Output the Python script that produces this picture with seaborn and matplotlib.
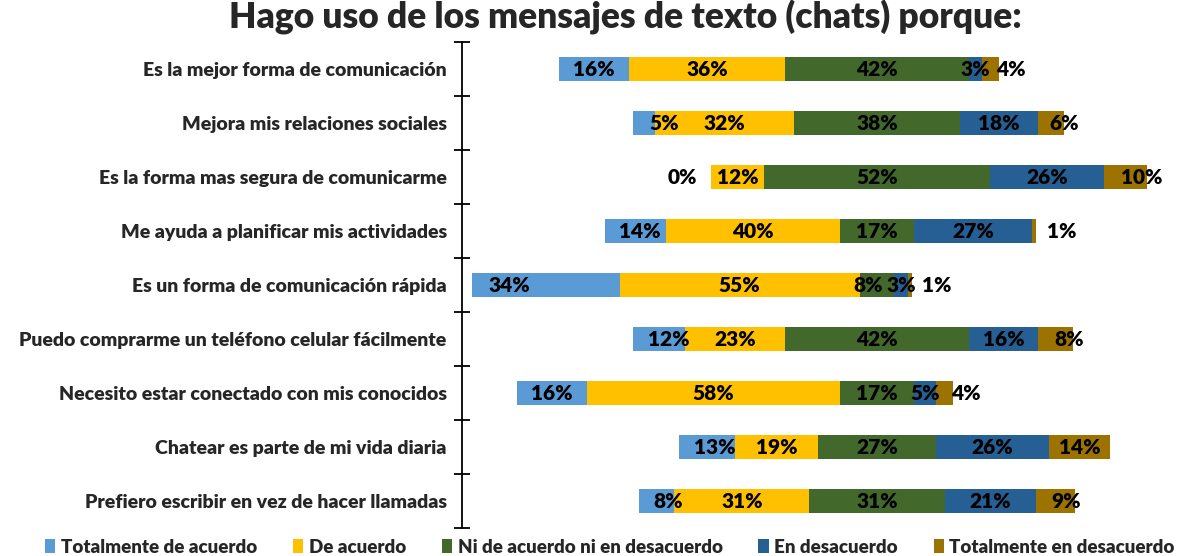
import numpy as np
import pandas as pd
import matplotlib
matplotlib.use("Agg")
import matplotlib.pyplot as plt
from matplotlib.patches import Patch
from matplotlib.ticker import FixedLocator
import seaborn as sns

# data (percent)
categories = [
    "Es la mejor forma de comunicación",
    "Mejora mis relaciones sociales",
    "Es la forma mas segura de comunicarme",
    "Me ayuda a planificar mis actividades",
    "Es un forma de comunicación rápida",
    "Puedo comprarme un teléfono celular fácilmente",
    "Necesito estar conectado con mis conocidos",
    "Chatear es parte de mi vida diaria",
    "Prefiero escribir en vez de hacer llamadas",
]
series_names = ["Totalmente de acuerdo", "De acuerdo", "Ni de acuerdo ni en desacuerdo",
                "En desacuerdo", "Totalmente en desacuerdo"]
tot_acuerdo = [16, 5, 0, 14, 34, 12, 16, 13, 8]
de_acuerdo = [36, 32, 12, 40, 55, 23, 58, 19, 31]
neutral = [42, 38, 52, 17, 8, 42, 17, 27, 31]
en_desacuerdo = [3, 18, 26, 27, 3, 16, 5, 26, 21]
tot_desacuerdo = [4, 6, 10, 1, 1, 8, 4, 14, 9]

colors = ["#5B9BD5", "#FFC000", "#43682B", "#265F93", "#9C7300"]

# label nudges (in % units) where the original labels were moved off-centre
nudges = {(0, 4): 4.8, (1, 0): 4.6, (1, 4): 3.0, (2, 0): -6.7, (2, 4): 3.7,
          (3, 0): 1.1, (3, 4): 6.4, (4, 0): -8.3, (4, 2): -2.1, (4, 4): 6.2,
          (5, 0): 2.3, (5, 4): 3.0, (6, 4): 5.0, (7, 0): 1.8, (8, 0): 2.5, (8, 4): 2.3}

sns.set_theme(style="white")
plt.rcParams["font.family"] = ["Lato", "DejaVu Sans"]
W = "heavy"

ta = np.array(tot_acuerdo, float)
da = np.array(de_acuerdo, float)
ne = np.array(neutral, float)
ed = np.array(en_desacuerdo, float)
td = np.array(tot_desacuerdo, float)

fig = plt.figure(figsize=(11.85, 5.56), dpi=100)
ax = fig.add_axes([462 / 1185, 1 - 528 / 556, 718 / 1185, (528 - 42) / 556])

# diverging bars centred on the middle of the neutral segment, layered
layers = [
    (-(ta + da + ne / 2), colors[0]),
    (-(da + ne / 2), colors[1]),
    (-(ne / 2), colors[2]),
    (ne / 2 + ed + td, colors[4]),
    (ne / 2 + ed, colors[3]),
    (ne / 2, colors[2]),
]
for vals, col in layers:
    df = pd.DataFrame({"cat": categories, "val": vals})
    sns.barplot(data=df, x="val", y="cat", order=categories, color=col, orient="h",
                width=0.45, errorbar=None, saturation=1, linewidth=0, ax=ax)

# segment labels
stack = np.vstack([ta, da, ne, ed, td])
start = -(ta + da + ne / 2)
for i in range(len(categories)):
    left = start[i]
    for j in range(5):
        v = stack[j, i]
        cx = left + v / 2 + nudges.get((i, j), 0)
        ax.text(cx, i, f"{int(v)}%", ha="center", va="center", fontsize=15,
                fontweight=W, color="black")
        left += v

ax.set_xlim(-95.2, 69.5)
ax.set_ylim(len(categories) - 0.5, -0.5)
ax.set_xlabel("")
ax.set_ylabel("")
ax.set_xticks([])
for s in ["top", "right", "bottom"]:
    ax.spines[s].set_visible(False)
ax.spines["left"].set_color("black")
ax.spines["left"].set_linewidth(1.3)
ax.tick_params(axis="y", which="major", length=0, pad=11, labelsize=14)
ax.yaxis.set_minor_locator(FixedLocator(np.arange(-0.5, len(categories), 1.0)))
ax.tick_params(axis="y", which="minor", left=True, direction="inout", length=11,
               width=1.3, color="black")
for lab in ax.get_yticklabels():
    lab.set_fontweight(W)

fig.suptitle("Hago uso de los mensajes de texto (chats) porque:", x=625 / 1185, y=1.0,
             fontsize=25.5, fontweight=W, va="top")

handles = [Patch(facecolor=c, edgecolor="none") for c in colors]
fig.legend(handles, series_names, loc="lower center", bbox_to_anchor=(610 / 1185, -0.03),
           ncol=5, frameon=False, handlelength=0.55, handleheight=0.8, handletextpad=0.3,
           columnspacing=1.9, prop={"weight": W, "size": 13.5})

fig.savefig("out.png", dpi=100)
